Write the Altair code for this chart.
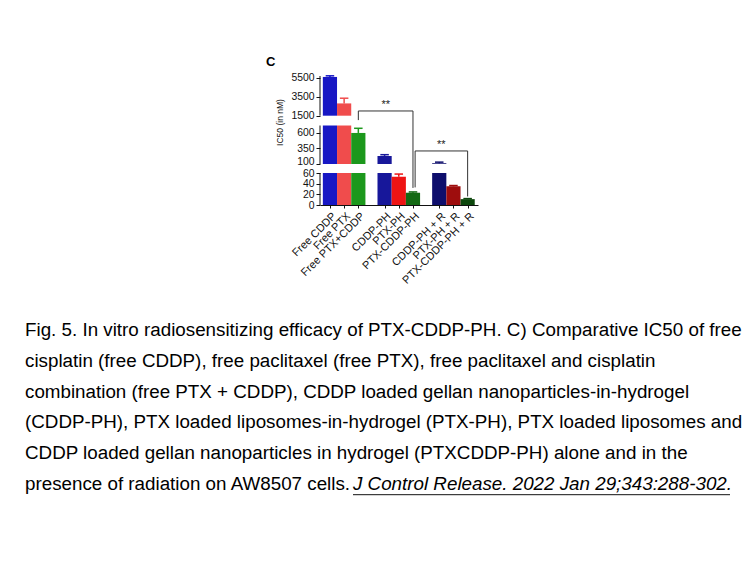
import altair as alt
import pandas as pd

# ---- data ----
categories = ["Free CDDP", "Free PTX", "Free PTX+CDDP",
              "CDDP-PH", "PTX-PH", "PTX-CDDP-PH",
              "CDDP-PH + R", "PTX-PH + R", "PTX-CDDP-PH + R"]
slots = [0, 1, 2, 3.85, 4.85, 5.85, 7.7, 8.7, 9.7]
ic50 = [5600, 2800, 600, 230, 53, 23, 112, 35, 11]
err = [120, 550, 75, 20, 5, 1.5, 18, 1.5, 1]
colors = ["#1717c4", "#f04c4c", "#1c981c",
          "#17179a", "#ee1414", "#136913",
          "#0e0e6c", "#9e0d0d", "#0c470c"]

y_ticks = [0, 20, 40, 60, 100, 350, 600, 1500, 3500, 5500]
segments = [(0, 60), (100, 720), (1500, 5700)]

# significance brackets: (x, x2, y, y2)
bracket_lines = [
    (2, 2, 1150, 2000), (2, 5.85, 2000, 2000), (5.85, 5.85, 2000, 32),
    (6.0, 6.0, 33, 310), (6.0, 9.7, 310, 310), (9.7, 9.7, 310, 16),
]
stars_x = [3.93, 7.85]
stars_y = [2000, 310]

caption_lines = [
    "Fig. 5. In vitro radiosensitizing efficacy of PTX-CDDP-PH. C) Comparative IC50 of free",
    "cisplatin (free CDDP), free paclitaxel (free PTX), free paclitaxel and cisplatin",
    "combination (free PTX + CDDP), CDDP loaded gellan nanoparticles-in-hydrogel",
    "(CDDP-PH), PTX loaded liposomes-in-hydrogel (PTX-PH), PTX loaded liposomes and",
    "CDDP loaded gellan nanoparticles in hydrogel (PTXCDDP-PH) alone and in the",
    "presence of radiation on AW8507 cells. ",
]
citation = "J Control Release. 2022 Jan 29;343:288-302."

FONT = "Liberation Sans"
W, H = 158, 129

# ---- tables ----
seg_rows = []
for c, s, v in zip(categories, slots, ic50):
    for lo, hi in segments:
        if v > lo:
            seg_rows.append({"cat": c, "x": s - 0.5, "x2": s + 0.5, "y": lo, "y2": min(v, hi)})
seg_df = pd.DataFrame(seg_rows)

err_df = pd.DataFrame({
    "cat": categories, "x": slots,
    "xl": [s - 0.3 for s in slots], "xr": [s + 0.3 for s in slots],
    "y": ic50, "y2": [v + e for v, e in zip(ic50, err)],
})
axis_df = pd.DataFrame({"x": [-0.7] * 3, "y": [a for a, b in segments], "y2": [b for a, b in segments]})
br_df = pd.DataFrame(bracket_lines, columns=["x", "x2", "y", "y2"])
star_df = pd.DataFrame({"x": stars_x, "y": stars_y, "t": ["**", "**"]})

xscale = alt.Scale(domain=[-0.7, 10.43], nice=False, zero=False)
yscale = alt.Scale(domain=[0, 60, 100, 720, 1500, 5700],
                   range=[129, 97, 88, 49.5, 39.7, 0], nice=False, zero=False)
cscale = alt.Scale(domain=categories, range=colors)

label_expr = ("[" + ",".join("'%s'" % c for c in categories) + "][indexof(["
              + ",".join(str(s) for s in slots) + "], datum.value)]")

xaxis = alt.Axis(values=slots, labelExpr=label_expr, labelAngle=315, labelAlign="right",
                 labelBaseline="top", labelFontSize=11, labelFont=FONT, labelColor="#111",
                 labelPadding=2, labelOverlap=False, labelFlush=False, labelBound=False,
                 tickSize=3, tickColor="#111", domainColor="#111",
                 grid=False, title=None)
yaxis = alt.Axis(values=y_ticks, format="d", domain=False, tickSize=4, tickColor="#111",
                 labelFontSize=10.4, labelFont=FONT, labelColor="#111", labelPadding=2,
                 labelOffset={"condition": {"test": "datum.value == 100", "value": -2.5},
                              "value": 0},
                 labelOverlap=False, labelFlush=False, labelBound=False,
                 grid=False, title="IC50 (in nM)", titleFont=FONT, titleFontSize=8.5,
                 titleFontWeight="normal", titleColor="#111", titleAngle=270,
                 titleX=-41, titleY=46, titleAlign="center", titleBaseline="middle")


def X(field):
    return alt.X(field, scale=xscale, axis=xaxis)


def Y(field):
    return alt.Y(field, scale=yscale, axis=yaxis)


bars = alt.Chart(seg_df).mark_rect().encode(
    x=X("x:Q"), x2="x2", y=Y("y:Q"), y2="y2",
    color=alt.Color("cat:N", scale=cscale, legend=None),
)
err_rule = alt.Chart(err_df).mark_rule(strokeWidth=1.5).encode(
    x=X("x:Q"), y=Y("y:Q"), y2="y2",
    color=alt.Color("cat:N", scale=cscale, legend=None),
)
err_cap = alt.Chart(err_df).mark_rule(strokeWidth=1.5).encode(
    x=X("xl:Q"), x2="xr", y=Y("y2:Q"),
    color=alt.Color("cat:N", scale=cscale, legend=None),
)
yline = alt.Chart(axis_df).mark_rule(color="#111", strokeWidth=1).encode(
    x=X("x:Q"), y=Y("y:Q"), y2="y2",
)
brackets = alt.Chart(br_df).mark_rule(color="#333", strokeWidth=1).encode(
    x=X("x:Q"), x2="x2", y=Y("y:Q"), y2="y2",
)
stars = alt.Chart(star_df).mark_text(font=FONT, fontSize=11, baseline="bottom", dy=-1,
                                     color="#222").encode(
    x=X("x:Q"), y=Y("y:Q"), text="t:N",
)

layers = [bars, err_rule, err_cap, yline, brackets, stars]

# panel letter
layers.append(alt.Chart(pd.DataFrame({"t": ["C"]})).mark_text(
    font=FONT, fontSize=13, fontWeight="bold", align="left", baseline="alphabetic",
    color="#000").encode(x=alt.value(-54), y=alt.value(-10), text="t:N"))

# caption
FS = 18.8
CAP_X = 25 - 320
base0 = 335.7 - 76
step = 30.9
for i, line in enumerate(caption_lines):
    layers.append(alt.Chart(pd.DataFrame({"t": [line]})).mark_text(
        font=FONT, fontSize=FS, align="left", baseline="alphabetic", color="#000").encode(
        x=alt.value(CAP_X), y=alt.value(base0 + i * step), text="t:N"))
cit_x = 353 - 320
layers.append(alt.Chart(pd.DataFrame({"t": [citation]})).mark_text(
    font=FONT, fontSize=FS, fontStyle="italic", align="left", baseline="alphabetic",
    color="#000").encode(
    x=alt.value(cit_x), y=alt.value(base0 + 5 * step), text="t:N"))
layers.append(alt.Chart(pd.DataFrame({"t": [citation]})).mark_rule(color="#111", strokeWidth=1).encode(
    x=alt.value(cit_x), x2=alt.value(730 - 320), y=alt.value(base0 + 5 * step + 4.5)))

chart = alt.layer(*layers).properties(
    width=W, height=H,
    autosize=alt.AutoSizeParams(type="none"),
    padding={"left": 320, "top": 76, "right": 756 - 320 - W, "bottom": 567 - 76 - H},
    background="white",
).configure_view(stroke=None).configure_axis(labelOverlap=False)

chart.save("out.html", embed_options={"renderer": "svg", "actions": False})
